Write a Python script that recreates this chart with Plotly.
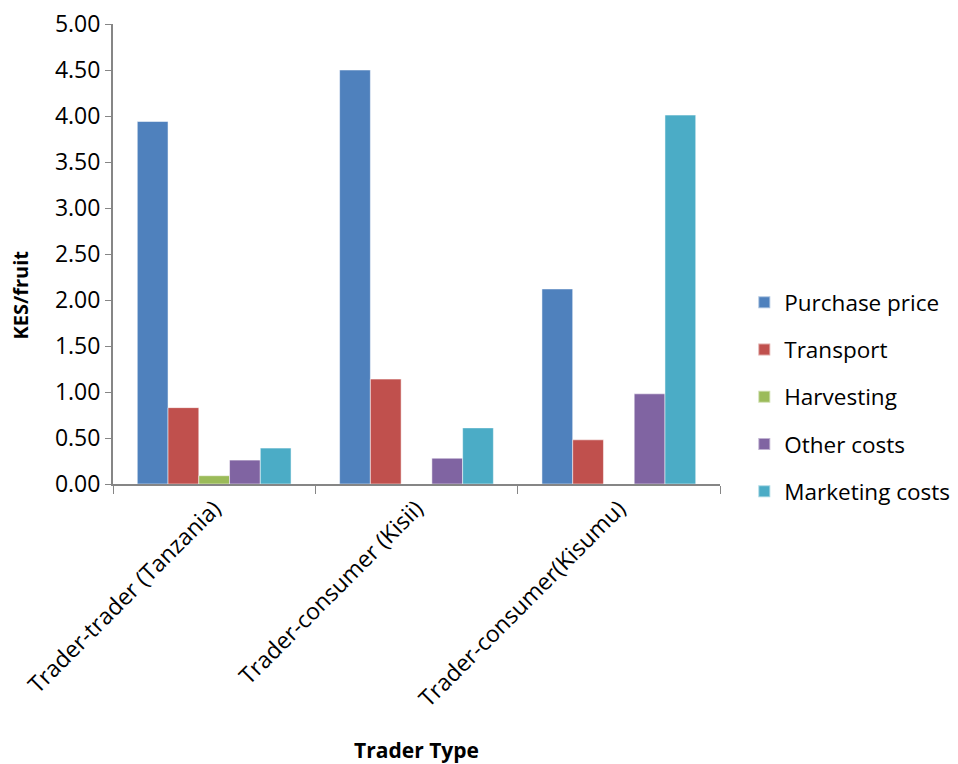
import plotly.graph_objects as go

categories = ["Trader-trader (Tanzania)", "Trader-consumer (Kisii)", "Trader-consumer(Kisumu)"]
series_names = ["Purchase price", "Transport", "Harvesting", "Other costs", "Marketing costs"]
purchase_price = [3.94, 4.50, 2.12]
transport = [0.83, 1.14, 0.48]
harvesting = [0.09, 0.0, 0.0]
other_costs = [0.26, 0.28, 0.98]
marketing_costs = [0.39, 0.61, 4.01]
y_ticks = [0, 0.5, 1, 1.5, 2, 2.5, 3, 3.5, 4, 4.5, 5]

colors = ["#4F81BD", "#C0504D", "#9BBB59", "#8064A2", "#4BACC6"]
values = [purchase_price, transport, harvesting, other_costs, marketing_costs]

FONT = "Open Sans, sans-serif"

fig = go.Figure()
for name, vals, c in zip(series_names, values, colors):
    fig.add_trace(go.Bar(x=categories, y=vals, name=name, legendgroup=name,
                         marker=dict(color=c, line=dict(color="rgba(255,255,255,0.5)", width=1))))

fig.update_layout(
    width=958, height=764,
    margin=dict(l=113, r=238, t=24, b=280, autoexpand=False),
    paper_bgcolor="white", plot_bgcolor="white",
    barmode="group", bargap=0.24, bargroupgap=0,
    font=dict(family=FONT, size=23, color="#000000"),
    showlegend=True,
    legend=dict(x=1.04, y=0.189, xanchor="left", yanchor="middle",
                font=dict(size=22.5), itemsizing="constant", tracegroupgap=15,
                traceorder="grouped", bgcolor="rgba(0,0,0,0)"),
    yaxis=dict(range=[0, 5], tickvals=y_ticks, tickformat=".2f", automargin=False,
               showline=True, linecolor="#868686", linewidth=2,
               ticks="outside", ticklen=6, tickcolor="#868686", tickwidth=1,
               showgrid=False, zeroline=False),
    xaxis=dict(showline=True, linecolor="#868686", linewidth=2, automargin=False,
               ticks="outside", ticklen=8, tickcolor="#868686", tickwidth=1,
               tickson="boundaries", tickangle=-45, showgrid=False,
               title=dict(text="<b>Trader Type</b>", font=dict(size=21), standoff=35)),
    annotations=[dict(text="<b>KES/fruit</b>", xref="paper", yref="paper",
                      x=-0.153, y=0.41, xanchor="center", yanchor="middle",
                      textangle=-90, showarrow=False, font=dict(size=20))],
)

fig.write_html("out.html")
